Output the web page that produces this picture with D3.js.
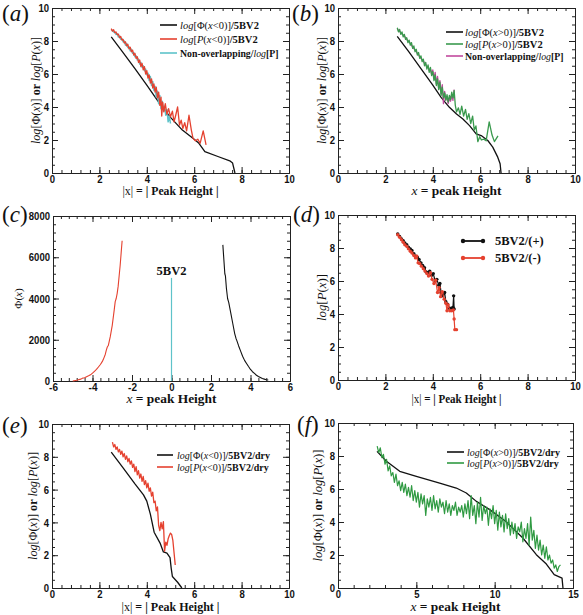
<!DOCTYPE html>
<html><head><meta charset="utf-8">
<script src="https://cdn.jsdelivr.net/npm/d3@7"></script>
<style>
body{margin:0;background:#fff;}
svg text{white-space:pre;}
</style></head><body>
<svg id="c" width="583" height="615"></svg>
<script>
// ---------------- DATA ----------------
// Panel (a)
const phiNegA = [[2.5,8.25],[3.0,7.3],[3.5,6.32],[4.0,5.32],[4.5,4.3],[5.0,3.37],[5.5,2.6],[6.0,2.05],[6.2,1.8],[6.45,1.3],[7.0,1.0],[7.5,0.74],[7.62,0.6],[7.72,0]];
const pNegA = [[2.50,8.75],[2.55,8.60],[2.60,8.68],[2.65,8.50],[2.70,8.55],[2.75,8.38],[2.80,8.42],[2.85,8.20],[2.90,8.28],[2.95,8.05],[3.00,8.10],[3.05,7.88],[3.10,7.95],[3.15,7.70],[3.20,7.80],[3.25,7.52],[3.30,7.62],[3.35,7.35],[3.40,7.45],[3.45,7.15],[3.50,7.25],[3.55,6.95],[3.60,7.05],[3.65,6.70],[3.70,6.85],[3.75,6.45],[3.80,6.65],[3.85,6.25],[3.90,6.45],[3.95,6.00],[4.00,6.20],[4.05,5.75],[4.10,5.95],[4.15,5.45],[4.20,5.70],[4.25,5.15],[4.30,5.40],[4.35,4.90],[4.40,5.20],[4.45,4.55],[4.50,4.90],[4.55,4.10],[4.60,4.60],[4.63,3.45],[4.67,4.30],[4.72,3.70],[4.78,4.20],[4.85,3.55],[4.92,3.90],[5.00,3.40],[5.08,3.75],[5.15,3.10],[5.22,3.50],[5.30,4.00],[5.38,2.90],[5.45,3.20],[5.52,2.70],[5.60,3.05],[5.68,2.55],[5.78,3.50],[5.88,2.60],[5.95,2.10],[6.05,1.95],[6.15,2.05],[6.25,1.80],[6.38,2.55],[6.50,1.70]];
const nonOverA = [[2.50,8.70],[2.55,8.62],[2.60,8.55],[2.65,8.55],[2.70,8.40],[2.75,8.45],[2.80,8.25],[2.85,8.30],[2.90,8.10],[2.95,8.15],[3.00,7.95],[3.05,8.00],[3.10,7.75],[3.15,7.85],[3.20,7.60],[3.25,7.65],[3.30,7.40],[3.35,7.50],[3.40,7.25],[3.45,7.30],[3.50,7.05],[3.55,7.10],[3.60,6.85],[3.65,6.90],[3.70,6.60],[3.75,6.70],[3.80,6.40],[3.85,6.50],[3.90,6.20],[3.95,6.30],[4.00,5.95],[4.05,6.05],[4.10,5.60],[4.15,5.85],[4.20,5.30],[4.25,5.55],[4.30,5.00],[4.35,5.25],[4.40,4.60],[4.45,4.95],[4.50,4.20],[4.55,4.70],[4.60,3.90],[4.65,4.35],[4.70,3.75],[4.75,4.05],[4.80,3.50],[4.85,3.85],[4.90,3.10],[4.95,3.45],[5.00,3.00]];
// Panel (b)
const phiPosB = [[2.5,8.28],[3.0,7.32],[3.5,6.33],[4.0,5.33],[4.35,4.58],[4.7,3.98],[5.0,3.57],[5.27,3.27],[5.55,2.87],[5.83,2.37],[6.04,2.27],[6.32,1.97],[6.53,1.57],[6.74,0.96],[6.84,0.56],[6.88,0]];
const pPosB = [[2.50,8.80],[2.55,8.55],[2.60,8.70],[2.65,8.40],[2.70,8.55],[2.75,8.25],[2.80,8.40],[2.85,8.10],[2.90,8.20],[2.95,7.90],[3.00,8.05],[3.05,7.75],[3.10,7.90],[3.15,7.55],[3.20,7.70],[3.25,7.35],[3.30,7.50],[3.35,7.15],[3.40,7.30],[3.45,6.95],[3.50,7.10],[3.55,6.75],[3.60,6.90],[3.65,6.50],[3.70,6.70],[3.75,6.30],[3.80,6.55],[3.85,6.10],[3.90,6.40],[3.95,5.90],[4.00,6.15],[4.05,5.60],[4.10,5.95],[4.15,5.30],[4.20,5.70],[4.25,5.05],[4.30,5.50],[4.35,4.70],[4.40,5.20],[4.45,4.55],[4.50,4.85],[4.55,4.40],[4.60,4.75],[4.65,4.30],[4.70,4.70],[4.75,4.45],[4.80,4.90],[4.85,4.55],[4.90,5.00],[4.95,4.10],[5.00,3.70],[5.08,3.95],[5.15,3.55],[5.22,4.05],[5.30,3.45],[5.38,3.85],[5.45,3.25],[5.52,3.60],[5.60,3.00],[5.68,3.45],[5.75,2.60],[5.82,2.85],[5.90,1.90],[5.98,2.20],[6.05,2.00],[6.15,2.05],[6.25,1.95],[6.38,3.10],[6.50,2.30],[6.60,1.90],[6.75,2.25]];
const nonOverB = [[2.50,8.75],[2.55,8.65],[2.60,8.60],[2.65,8.50],[2.70,8.45],[2.75,8.35],[2.80,8.30],[2.85,8.20],[2.90,8.10],[2.95,8.00],[3.00,7.95],[3.05,7.85],[3.10,7.75],[3.15,7.65],[3.20,7.55],[3.25,7.45],[3.30,7.35],[3.35,7.25],[3.40,7.15],[3.45,7.05],[3.50,6.95],[3.55,6.85],[3.60,6.80],[3.65,6.65],[3.70,6.60],[3.75,6.40],[3.80,6.45],[3.85,6.20],[3.90,6.30],[3.95,6.00],[4.00,6.25],[4.05,5.70],[4.10,6.10],[4.15,5.40],[4.20,5.85],[4.25,5.10],[4.30,5.60],[4.35,4.80],[4.40,5.35],[4.45,4.20],[4.50,4.95],[4.55,4.45],[4.60,4.60],[4.65,4.20],[4.70,4.55],[4.75,4.35],[4.80,4.75],[4.85,4.40],[4.90,5.05]];
// Panel (c)
const phiNegC = [[-5.0,0],[-4.8,40],[-4.6,90],[-4.5,140],[-4.4,160],[-4.3,210],[-4.2,250],[-4.1,300],[-4.0,380],[-3.9,470],[-3.8,560],[-3.7,680],[-3.6,800],[-3.5,950],[-3.45,1050],[-3.35,1300],[-3.3,1500],[-3.25,1650],[-3.2,1720],[-3.1,2150],[-3.0,2700],[-2.9,3450],[-2.85,3850],[-2.8,4000],[-2.75,4250],[-2.7,4600],[-2.65,5100],[-2.6,5600],[-2.55,6200],[-2.5,6800]];
const phiPosC = [[2.6,6600],[2.65,5900],[2.7,5200],[2.73,5100],[2.78,4500],[2.84,4000],[2.9,3800],[3.0,3300],[3.1,2800],[3.2,2300],[3.27,2050],[3.3,1980],[3.4,1700],[3.5,1450],[3.6,1200],[3.7,1000],[3.8,850],[3.9,700],[4.0,560],[4.1,450],[4.2,370],[4.3,280],[4.4,220],[4.5,170],[4.6,120],[4.7,90],[4.8,60],[4.9,50]];
const markC = [[0,0],[0,5000]];
// Panel (d)
const plusD = [[2.52,8.85],[2.6,8.7],[2.68,8.55],[2.75,8.45],[2.82,8.3],[2.9,8.2],[2.97,8.05],[3.05,7.95],[3.12,7.85],[3.2,7.65],[3.27,7.5],[3.35,7.45],[3.42,7.3],[3.5,7.1],[3.57,6.95],[3.65,6.8],[3.72,6.55],[3.8,6.5],[3.87,6.6],[3.95,6.35],[4.02,6.45],[4.1,6.0],[4.17,6.1],[4.25,5.75],[4.3,5.85],[4.35,5.3],[4.42,5.1],[4.5,5.3],[4.55,4.75],[4.62,4.6],[4.7,4.35],[4.78,4.35],[4.85,4.4],[4.88,5.1],[4.9,4.3]];
const minusD = [[2.52,8.8],[2.6,8.65],[2.68,8.5],[2.75,8.35],[2.82,8.2],[2.9,8.1],[2.97,7.95],[3.05,7.8],[3.12,7.7],[3.2,7.55],[3.27,7.4],[3.32,7.5],[3.38,7.1],[3.45,7.05],[3.52,6.9],[3.6,6.75],[3.67,6.6],[3.75,6.45],[3.82,6.3],[3.9,6.5],[3.97,6.1],[4.05,5.85],[4.12,6.05],[4.2,5.3],[4.27,5.6],[4.33,5.05],[4.4,5.35],[4.48,4.9],[4.55,4.65],[4.6,4.2],[4.65,4.55],[4.72,4.2],[4.8,4.2],[4.87,4.25],[4.9,3.7],[4.93,3.05],[5.0,3.05]];
// Panel (e)
const phiNegE = [[2.5,8.28],[3.0,7.33],[3.5,6.35],[3.86,5.68],[4.0,5.3],[4.15,4.5],[4.31,3.4],[4.56,2.74],[4.7,2.2],[4.85,2.12],[4.98,1.85],[5.03,1.2],[5.08,0.7],[5.3,0.35],[5.48,0]];
const pNegE = [[2.55,8.9],[2.6,8.6],[2.65,8.75],[2.7,8.45],[2.75,8.6],[2.8,8.3],[2.85,8.45],[2.9,8.15],[2.95,8.35],[3.0,8.0],[3.05,8.2],[3.1,7.85],[3.15,8.05],[3.2,7.7],[3.25,7.9],[3.3,7.55],[3.35,7.75],[3.4,7.35],[3.45,7.55],[3.5,7.1],[3.55,7.4],[3.6,6.9],[3.65,7.15],[3.7,6.7],[3.75,6.95],[3.8,6.5],[3.85,6.8],[3.9,6.3],[3.95,6.55],[4.0,6.1],[4.05,6.4],[4.1,5.9],[4.15,6.1],[4.2,5.6],[4.25,5.85],[4.3,5.2],[4.35,5.3],[4.4,4.7],[4.45,4.95],[4.5,3.8],[4.55,3.5],[4.6,4.0],[4.65,3.6],[4.7,4.05],[4.75,2.25],[4.8,2.8],[4.85,2.6],[4.9,3.0],[4.95,3.2],[5.0,3.35],[5.05,3.25],[5.1,2.9],[5.2,1.4]];
// Panel (f)
const phiPosF = [[2.49,8.28],[3.09,7.68],[3.94,7.07],[5.0,6.77],[6.49,6.36],[7.55,6.06],[8.19,5.76],[8.83,5.25],[9.68,4.75],[10.7,4.04],[11.8,3.03],[12.66,2.02],[13.3,1.45],[13.8,0.81],[14.3,0.6],[14.36,0]];
const pPosF = [[2.5,8.6],[2.6,8.2],[2.7,8.5],[2.8,7.9],[2.9,8.1],[3.0,7.5],[3.1,7.8],[3.2,7.1],[3.3,7.4],[3.4,6.8],[3.5,7.0],[3.6,6.4],[3.7,6.9],[3.8,6.2],[3.9,6.5],[4.0,5.9],[4.1,6.4],[4.2,5.8],[4.3,6.3],[4.4,5.6],[4.5,6.1],[4.6,5.5],[4.7,6.2],[4.8,5.3],[4.9,5.9],[5.0,5.2],[5.1,5.8],[5.2,4.9],[5.3,5.7],[5.4,5.1],[5.5,5.6],[5.6,4.4],[5.7,5.4],[5.8,4.9],[5.9,5.5],[6.0,4.7],[6.1,5.6],[6.2,4.8],[6.3,5.3],[6.4,4.6],[6.5,5.4],[6.6,4.9],[6.7,5.2],[6.8,4.5],[6.9,5.3],[7.0,4.6],[7.1,5.1],[7.2,4.4],[7.3,5.0],[7.4,4.7],[7.5,5.2],[7.6,4.4],[7.7,4.9],[7.8,4.6],[7.9,5.0],[8.0,4.3],[8.1,5.1],[8.2,4.5],[8.3,5.3],[8.4,4.2],[8.5,5.6],[8.6,4.4],[8.7,5.0],[8.8,3.9],[8.9,5.2],[9.0,4.3],[9.1,5.5],[9.2,4.1],[9.3,5.0],[9.4,4.5],[9.5,4.9],[9.6,3.8],[9.7,4.8],[9.8,4.2],[9.9,5.0],[10.0,3.9],[10.1,4.7],[10.2,3.5],[10.3,4.6],[10.4,3.7],[10.5,4.4],[10.6,3.4],[10.7,4.5],[10.8,3.6],[10.9,4.2],[11.0,3.2],[11.1,4.0],[11.2,3.3],[11.3,3.9],[11.4,3.0],[11.5,3.7],[11.6,3.4],[11.7,4.0],[11.8,2.8],[11.9,3.6],[12.0,3.0],[12.1,3.9],[12.2,2.6],[12.3,4.3],[12.4,2.9],[12.5,3.5],[12.6,2.4],[12.7,3.2],[12.8,2.3],[12.9,2.9],[13.0,2.0],[13.1,2.6],[13.2,1.8],[13.3,2.5],[13.4,1.7],[13.5,2.0],[13.6,1.5],[13.7,1.7],[13.8,1.2],[13.9,1.4],[14.0,1.0],[14.1,1.3],[14.2,1.4]];

// tick values
const ticks0to10 = [0,2,4,6,8,10];
const ticksC_x = [-6,-4,-2,0,2,4,6];
const ticksC_y = [0,2000,4000,6000,8000];
const ticksF_x = [0,5,10,15];

// colours
const BLACK="#111", RED="#e5412f", CYAN="#5ec3c9", GREEN="#3a9a4e", MAGENTA="#c24a9e", GREENF="#2f9a42";

// text fragments
const LBL_absX = [["|x|","r"],[" = | Peak Height |","b"]];
const LBL_x = [["x","i"],[" = peak Height","b"]];
const LBL_logPhiP = [["log","i"],["[Φ(","r"],["x","i"],[")] ","r"],["or ","b"],["log","i"],["[","r"],["P","i"],["(","r"],["x","i"],[")]","r"]];

// ---------------- DRAWING ----------------
const svg=d3.select("#c");
const SERIF="'Liberation Serif','Times New Roman',serif";
const SANS="'Liberation Sans',Arial,sans-serif";

function rich(g, parts, o){
  const t=g.append("text").attr("x",o.x).attr("y",o.y).attr("font-size",o.size)
    .attr("font-family",SERIF).attr("text-anchor",o.anchor||"start").attr("fill","#111");
  if(o.rotate) t.attr("transform",`rotate(-90,${o.x},${o.y})`);
  if(o.len) t.attr("textLength",o.len).attr("lengthAdjust","spacingAndGlyphs");
  parts.forEach(([s,st])=>{
    t.append("tspan").text(s)
      .attr("font-style",st.includes("i")?"italic":"normal")
      .attr("font-weight",st.includes("b")?"bold":"normal");
  });
  return t;
}
const labW = s => Array.from(s).reduce((a,ch)=>a+(ch==="-"?3.6:5.3),0);

function panel(p){
  const g=svg.append("g");
  const x=d3.scaleLinear().domain(p.xd).range([p.L,p.R]);
  const y=d3.scaleLinear().domain(p.yd).range([p.B,p.T]);
  const xMinor=d3.range(p.xd[0],p.xd[1]+1e-9,p.xm);
  const yMinor=d3.range(p.yd[0],p.yd[1]+1e-9,p.ym);
  const put=(gen,tx,ty)=>{
    const a=g.append("g").attr("transform",`translate(${tx},${ty})`).call(gen);
    a.attr("font-family",SANS).attr("font-size",11.5).attr("font-weight","bold");
    a.selectAll("line").attr("stroke","#222");
    a.select(".domain").attr("stroke","#222");
    a.selectAll(".tick text").attr("fill","#111").each(function(){
      const s=this.textContent;
      if(s) d3.select(this).attr("textLength",labW(s)).attr("lengthAdjust","spacingAndGlyphs");
    });
    return a;
  };
  const nf=d=>String(d);
  put(d3.axisBottom(x).tickValues(xMinor).tickSize(-3).tickSizeOuter(0).tickFormat(""),0,p.B);
  put(d3.axisTop(x).tickValues(xMinor).tickSize(-3).tickSizeOuter(0).tickFormat(""),0,p.T);
  put(d3.axisLeft(y).tickValues(yMinor).tickSize(-3).tickSizeOuter(0).tickFormat(""),p.L,0);
  put(d3.axisRight(y).tickValues(yMinor).tickSize(-3).tickSizeOuter(0).tickFormat(""),p.R,0);
  put(d3.axisBottom(x).tickValues(p.xt).tickSize(-6).tickSizeOuter(0).tickPadding(2).tickFormat(nf),0,p.B);
  put(d3.axisTop(x).tickValues(p.xt).tickSize(-6).tickSizeOuter(0).tickFormat(""),0,p.T);
  put(d3.axisLeft(y).tickValues(p.yt).tickSize(-6).tickSizeOuter(0).tickPadding(3).tickFormat(nf),p.L,0);
  put(d3.axisRight(y).tickValues(p.yt).tickSize(-6).tickSizeOuter(0).tickFormat(""),p.R,0);

  const line=d3.line().x(d=>x(d[0])).y(d=>y(d[1]));
  p.series.forEach(s=>{
    g.append("path").datum(s.data).attr("d",line).attr("fill","none")
      .attr("stroke",s.color).attr("stroke-width",s.w||1.3).attr("stroke-linejoin","round");
    if(s.dots){
      g.selectAll(null).data(s.data).enter().append("circle")
        .attr("cx",d=>x(d[0])).attr("cy",d=>y(d[1])).attr("r",1.7).attr("fill",s.color);
    }
  });
  (p.legend||[]).forEach(l=>{
    g.append("line").attr("x1",l.x0).attr("x2",l.x1).attr("y1",l.y).attr("y2",l.y)
      .attr("stroke",l.color).attr("stroke-width",l.w||1.6);
    if(l.dots){
      [l.x0,l.x1].forEach(cx=>g.append("circle").attr("cx",cx).attr("cy",l.y).attr("r",2.2).attr("fill",l.color));
    }
    rich(g,l.parts,{x:l.tx,y:l.y+3.5,size:l.size||10.5});
  });
  rich(g,p.xTitle,{x:(p.L+p.R)/2,y:p.xTitleY,size:12.5,anchor:"middle",len:p.xTitleLen});
  rich(g,p.yTitle,{x:p.yTitleX,y:(p.T+p.B)/2,size:p.yTitleSize||12.5,anchor:"middle",rotate:true,len:p.yTitleLen});
  rich(g,[["(","r"],[p.letter,"i"],[")","r"]],{x:p.lx,y:p.ly,size:23});
  if(p.extra) p.extra(g,x,y);
}

panel({L:52,R:289,T:8,B:173,xd:[0,10],yd:[0,10],xt:ticks0to10,yt:ticks0to10,xm:0.4,ym:0.5,
  series:[{data:phiNegA,color:BLACK},{data:nonOverA,color:CYAN,w:1.5},{data:pNegA,color:RED}],
  legend:[
    {x0:160,x1:177,tx:180,y:25,color:BLACK,parts:[["log","i"],["[Φ(","r"],["x","i"],["<0)]","r"],["/5BV2","b"]]},
    {x0:160,x1:177,tx:180,y:39,color:RED,parts:[["log","i"],["[","r"],["P","i"],["(","r"],["x","i"],["<0)]","r"],["/5BV2","b"]]},
    {x0:160,x1:177,tx:180,y:53,size:9.8,color:CYAN,parts:[["Non-overlapping/","b"],["log","i"],["[P]","b"]]}],
  xTitle:LBL_absX,xTitleY:195,xTitleLen:96,yTitle:LBL_logPhiP,yTitleX:40,yTitleLen:107,letter:"a",lx:2,ly:21});

panel({L:338,R:575,T:8,B:173,xd:[0,10],yd:[0,10],xt:ticks0to10,yt:ticks0to10,xm:0.4,ym:0.5,
  series:[{data:phiPosB,color:BLACK},{data:nonOverB,color:MAGENTA,w:1.3},{data:pPosB,color:GREEN}],
  legend:[
    {x0:446,x1:463,tx:465,y:32,color:BLACK,parts:[["log","i"],["[Φ(","r"],["x","i"],[">0)]","r"],["/5BV2","b"]]},
    {x0:446,x1:463,tx:465,y:44,color:GREEN,parts:[["log","i"],["[","r"],["P","i"],["(","r"],["x","i"],[">0)]","r"],["/5BV2","b"]]},
    {x0:446,x1:463,tx:465,y:56,size:9.8,color:MAGENTA,parts:[["Non-overlapping/","b"],["log","i"],["[P]","b"]]}],
  xTitle:LBL_x,xTitleY:195,xTitleLen:90,yTitle:LBL_logPhiP,yTitleX:326,yTitleLen:107,letter:"b",lx:292,ly:21});

panel({L:53,R:290,T:216,B:381,xd:[-6,6],yd:[0,8000],xt:ticksC_x,yt:ticksC_y,xm:0.4,ym:400,
  series:[{data:phiNegC,color:RED,w:1.1},{data:phiPosC,color:BLACK,w:1.1},{data:markC,color:CYAN,w:1.2}],
  xTitle:LBL_x,xTitleY:403,xTitleLen:90,yTitle:[["Φ(","r"],["x","i"],[")","r"]],yTitleX:22,yTitleSize:11,letter:"c",lx:2,ly:222,
  extra:(g,x,y)=>{rich(g,[["5BV2","b"]],{x:x(0),y:y(5150),size:12.5,anchor:"middle"});}});

panel({L:338,R:575,T:215,B:380,xd:[0,10],yd:[0,10],xt:ticks0to10,yt:ticks0to10,xm:0.4,ym:0.5,
  series:[{data:plusD,color:BLACK,w:1.2,dots:true},{data:minusD,color:RED,w:1.2,dots:true}],
  legend:[
    {x0:463,x1:483,tx:495,y:241,color:BLACK,dots:true,w:1.8,size:12.5,parts:[["5BV2/(+)","b"]]},
    {x0:463,x1:483,tx:495,y:258,color:RED,dots:true,w:1.8,size:12.5,parts:[["5BV2/(-)","b"]]}],
  xTitle:LBL_absX,xTitleY:403,xTitleLen:90,yTitle:[["log","i"],["[","r"],["P","i"],["(","r"],["x","i"],[")]","r"]],yTitleX:326,yTitleLen:47,letter:"d",lx:293,ly:222});

panel({L:52,R:289,T:424,B:588,xd:[0,10],yd:[0,10],xt:ticks0to10,yt:ticks0to10,xm:0.4,ym:0.5,
  series:[{data:phiNegE,color:BLACK},{data:pNegE,color:RED}],
  legend:[
    {x0:157,x1:173,tx:177,y:455,size:10,color:BLACK,parts:[["log","i"],["[Φ(","r"],["x","i"],["<0)]","r"],["/5BV2/dry","b"]]},
    {x0:157,x1:173,tx:177,y:467,size:10,color:RED,parts:[["log","i"],["[","r"],["P","i"],["(","r"],["x","i"],["<0)]","r"],["/5BV2/dry","b"]]}],
  xTitle:LBL_absX,xTitleY:611,xTitleLen:98,yTitle:LBL_logPhiP,yTitleX:37,yTitleLen:108,letter:"e",lx:2,ly:433});

panel({L:338,R:573,T:423,B:588,xd:[0,15],yd:[0,10],xt:ticksF_x,yt:ticks0to10,xm:1,ym:0.5,
  series:[{data:phiPosF,color:BLACK},{data:pPosF,color:GREENF,w:1.2}],
  legend:[
    {x0:447,x1:464,tx:467,y:452,size:10,color:BLACK,parts:[["log","i"],["[Φ(","r"],["x","i"],[">0)]","r"],["/5BV2/dry","b"]]},
    {x0:447,x1:464,tx:467,y:463,size:10,color:GREENF,parts:[["log","i"],["[","r"],["P","i"],["(","r"],["x","i"],[">0)]","r"],["/5BV2/dry","b"]]}],
  xTitle:LBL_x,xTitleY:611,xTitleLen:90,yTitle:LBL_logPhiP,yTitleX:322,yTitleLen:112,letter:"f",lx:297,ly:432});
</script>
</body></html>
